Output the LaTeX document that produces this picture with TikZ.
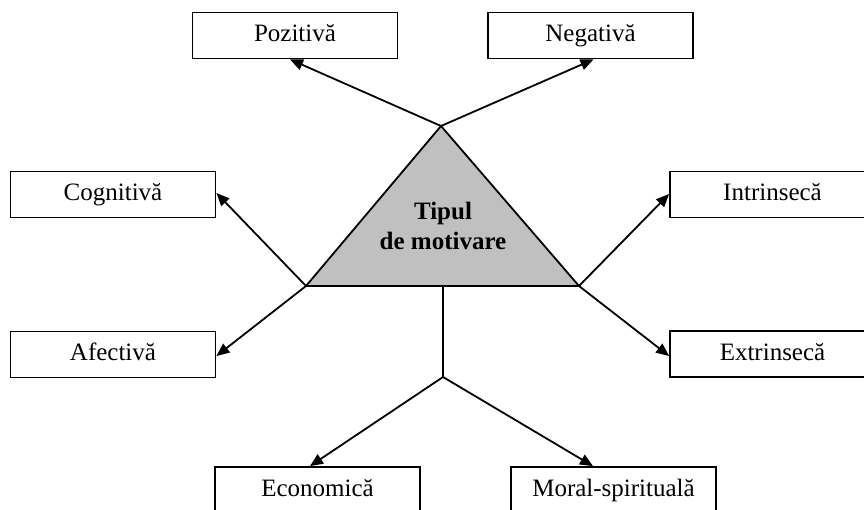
\documentclass[tikz,border=0pt]{standalone}
\usepackage{fontspec}
\setmainfont{Liberation Serif}
\usetikzlibrary{arrows.meta}
\definecolor{trifill}{RGB}{192,192,192}
\begin{document}
\begin{tikzpicture}[x=1pt,y=-1pt,
  box/.style={draw,line width=1.8pt,minimum width=205pt,minimum height=46pt,
    inner sep=0pt,font=\fontsize{25}{30}\selectfont,text height=17pt,text depth=5pt},
  link/.style={line width=1.8pt,-{Triangle[length=13pt,width=11pt]}},
  edge/.style={line width=1.8pt}]
\useasboundingbox (0,0) rectangle (864,509);
\clip (0,0) rectangle (864,509);

% category boxes
\node[box] (poz) at (295,35.5) {Pozitivă};
\node[box] (neg) at (590.5,35.5) {Negativă};
\node[box] (cog) at (113,194.5) {Cognitivă};
\node[box] (afe) at (113,354.5) {Afectivă};
\node[box] (intr) at (772.5,194.5) {Intrinsecă};
\node[box] (extr) at (772.5,354) {Extrinsecă};
\node[box] (eco) at (317.5,490) {Economică};
\node[box] (mor) at (613.5,490) {Moral-spirituală};

% central triangle
\coordinate (apex) at (441,126);
\coordinate (bl) at (306,286);
\coordinate (br) at (579,286);
\coordinate (base) at (443,286);
\coordinate (fork) at (443,377);
\draw[edge,fill=trifill,line join=miter] (apex) -- (bl) -- (br) -- cycle;
\node[font=\fontsize{25}{30}\selectfont\bfseries,align=center,inner sep=0pt]
  (title) at (443,226) {Tipul\\de motivare};

% connectors
\draw[link] (apex) -- ([xshift=-5pt]poz.south);
\draw[link] (apex) -- ([xshift=3pt]neg.south);
\draw[link] (bl) -- ([yshift=1.5pt]cog.east);
\draw[link] (bl) -- ([yshift=-1.5pt]afe.east);
\draw[link] (br) -- ([yshift=0.5pt]intr.west);
\draw[link] (br) -- ([yshift=-2pt]extr.west);
\draw[edge] (base) -- (fork);
\draw[link] (fork) -- ([xshift=-7.5pt]eco.north);
\draw[link] (fork) -- ([xshift=-20.5pt]mor.north);
\end{tikzpicture}
\end{document}
